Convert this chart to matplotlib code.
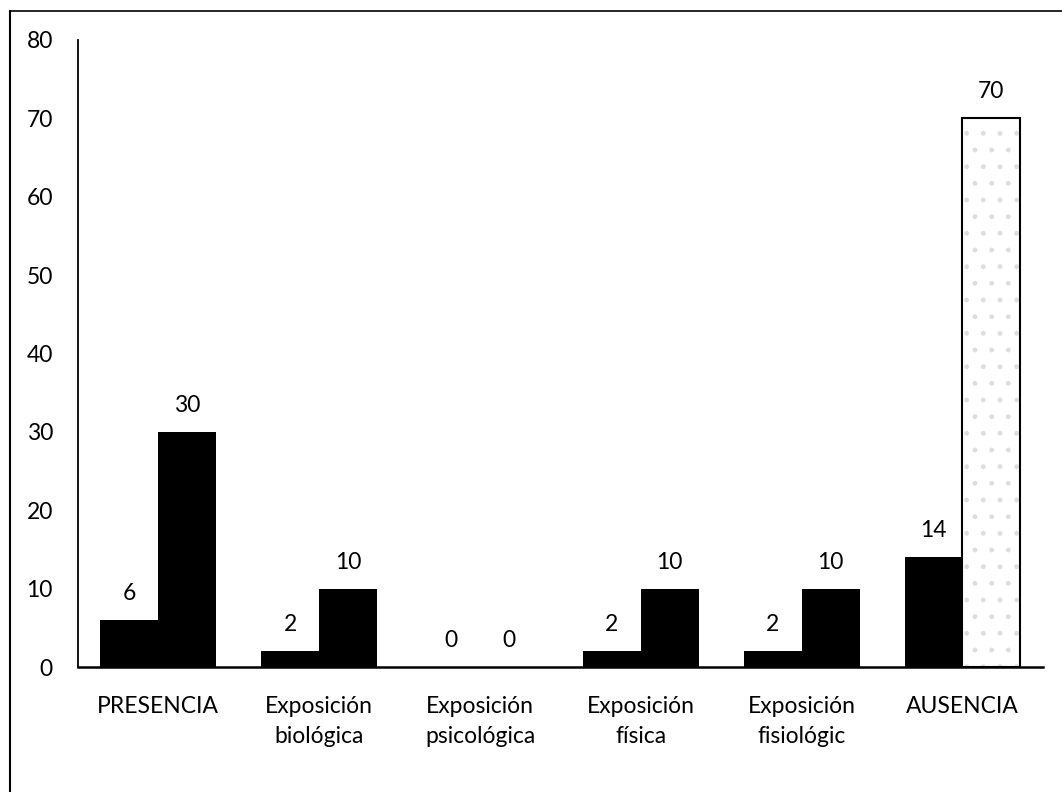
import matplotlib.pyplot as plt
from matplotlib.lines import Line2D
import numpy as np

categories = ["PRESENCIA", "Exposición\nbiológica", "Exposición\npsicológica",
              "Exposición\nfísica", "Exposición\nfisiológic", "AUSENCIA"]
serie_a = [6, 2, 0, 2, 2, 14]
serie_b = [30, 10, 0, 10, 10, 70]
yticks = [0, 10, 20, 30, 40, 50, 60, 70, 80]

plt.rcParams['font.family'] = ['Lato', 'DejaVu Sans']
FS = 16.5

fig = plt.figure(figsize=(10.62, 7.92), dpi=100)
ax = fig.add_axes([0.0734, 0.1578, 0.9086, 0.7917])

x = np.arange(len(categories))
w = 0.36

ax.bar(x - w / 2, serie_a, w, color="black")
ax.bar(x[:-1] + w / 2, serie_b[:-1], w, color="black")

# last bar: light speckled fill with a dark outline
ax.bar(x[-1] + w / 2, serie_b[-1], w, color="white", hatch=".",
       edgecolor="#dddddd", linewidth=0)
ax.bar(x[-1] + w / 2, serie_b[-1], w, fill=False, edgecolor="black", linewidth=1.5)

for xi, v in zip(x - w / 2, serie_a):
    ax.annotate(str(v), (xi, v), xytext=(0, 19), textcoords="offset points",
                ha="center", va="center", fontsize=FS)
for xi, v in zip(x + w / 2, serie_b):
    ax.annotate(str(v), (xi, v), xytext=(0, 19), textcoords="offset points",
                ha="center", va="center", fontsize=FS)

ax.set_xlim(-0.5, len(categories) - 0.5)
ax.set_ylim(0, 80)
ax.set_yticks(yticks)
ax.set_xticks(x)
ax.set_xticklabels(categories, fontsize=FS, linespacing=1.5)
ax.tick_params(axis="y", length=0, pad=18, labelsize=FS)
ax.tick_params(axis="x", length=0, pad=21)
for lbl in ax.get_xticklabels():
    lbl.set_verticalalignment("top")

ax.spines["top"].set_visible(False)
ax.spines["right"].set_visible(False)
ax.spines["left"].set_linewidth(1.3)
ax.spines["bottom"].set_linewidth(1.8)

# outer frame (left and top edges only)
fig.add_artist(Line2D([0.0094, 0.0094], [0.0, 0.986], color="black", lw=1.5,
                      transform=fig.transFigure))
fig.add_artist(Line2D([0.0094, 1.0], [0.986, 0.986], color="black", lw=1.2,
                      transform=fig.transFigure))

fig.savefig("out.png", dpi=100)
